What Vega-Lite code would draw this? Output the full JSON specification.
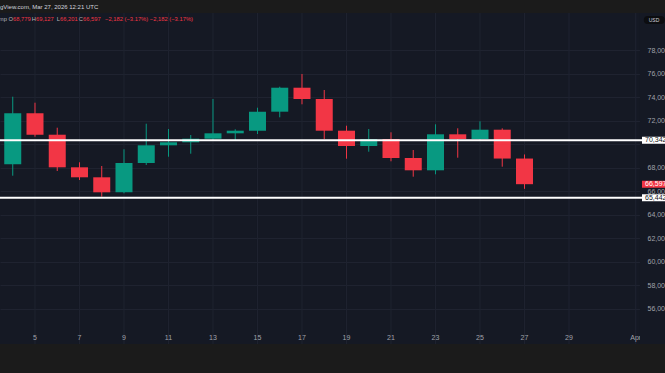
{
  "$schema": "https://vega.github.io/schema/vega-lite/v6.json",
  "width": 665,
  "height": 331,
  "autosize": {"type": "none"},
  "padding": {"top": 13, "left": 0, "right": 0, "bottom": 29},
  "background": "#1b1b1b",
  "config": {"view": {"fill": "#151924", "stroke": null}, "font": "Liberation Sans"},
  "datasets": {
    "candles": [
      {"date": "2026-03-04", "open": 68289, "high": 74043, "low": 67319, "close": 72630},
      {"date": "2026-03-05", "open": 72630, "high": 73532, "low": 70638, "close": 70808},
      {"date": "2026-03-06", "open": 70808, "high": 71404, "low": 67719, "close": 68034},
      {"date": "2026-03-07", "open": 68034, "high": 68460, "low": 66953, "close": 67183},
      {"date": "2026-03-08", "open": 67183, "high": 68145, "low": 65532, "close": 65906},
      {"date": "2026-03-09", "open": 65906, "high": 69566, "low": 65821, "close": 68400},
      {"date": "2026-03-10", "open": 68400, "high": 71744, "low": 68230, "close": 69906},
      {"date": "2026-03-11", "open": 69906, "high": 71293, "low": 68936, "close": 70162},
      {"date": "2026-03-12", "open": 70162, "high": 70783, "low": 69191, "close": 70468},
      {"date": "2026-03-13", "open": 70468, "high": 73846, "low": 70272, "close": 70927},
      {"date": "2026-03-14", "open": 70927, "high": 71268, "low": 70298, "close": 71149},
      {"date": "2026-03-15", "open": 71149, "high": 73106, "low": 70868, "close": 72766},
      {"date": "2026-03-16", "open": 72766, "high": 74893, "low": 72289, "close": 74808},
      {"date": "2026-03-17", "open": 74808, "high": 75974, "low": 73396, "close": 73846},
      {"date": "2026-03-18", "open": 73846, "high": 74612, "low": 70442, "close": 71149},
      {"date": "2026-03-19", "open": 71149, "high": 71574, "low": 68766, "close": 69847},
      {"date": "2026-03-20", "open": 69847, "high": 71293, "low": 69362, "close": 70442},
      {"date": "2026-03-21", "open": 70442, "high": 71012, "low": 68545, "close": 68825},
      {"date": "2026-03-22", "open": 68825, "high": 69506, "low": 67234, "close": 67779},
      {"date": "2026-03-23", "open": 67779, "high": 71693, "low": 67438, "close": 70842},
      {"date": "2026-03-24", "open": 70842, "high": 71353, "low": 68851, "close": 70442},
      {"date": "2026-03-25", "open": 70442, "high": 71949, "low": 70300, "close": 71234},
      {"date": "2026-03-26", "open": 71234, "high": 71350, "low": 68085, "close": 68779},
      {"date": "2026-03-27", "open": 68779, "high": 69127, "low": 66201, "close": 66597}
    ],
    "ticks": [
      {"date": "2026-03-05", "label": "5"},
      {"date": "2026-03-07", "label": "7"},
      {"date": "2026-03-09", "label": "9"},
      {"date": "2026-03-11", "label": "11"},
      {"date": "2026-03-13", "label": "13"},
      {"date": "2026-03-15", "label": "15"},
      {"date": "2026-03-17", "label": "17"},
      {"date": "2026-03-19", "label": "19"},
      {"date": "2026-03-21", "label": "21"},
      {"date": "2026-03-23", "label": "23"},
      {"date": "2026-03-25", "label": "25"},
      {"date": "2026-03-27", "label": "27"},
      {"date": "2026-03-29", "label": "29"},
      {"date": "2026-04-01", "label": "Apr"}
    ],
    "levels": [
      {"price": 70342, "label": "70,342", "type": "level"},
      {"price": 65442, "label": "65,442", "type": "level"},
      {"price": 66597, "label": "66,597", "type": "last"}
    ],
    "header": [
      {"caption": "gView.com, Mar 27, 2026 12:21 UTC", "symbol": "mp O", "open": "68,779", "h": "H", "high": "69,127", "l": "L", "low": "66,201", "c": "C", "close": "66,597", "change": "\u22122,182 (\u22123.17%) \u22122,182 (\u22123.17%)"}
    ],
    "badge": [{"text": "USD"}]
  },
  "resolve": {"axis": {"y": "independent"}},
  "layer": [
    {
      "data": {"name": "ticks"},
      "mark": {"type": "rule", "strokeWidth": 1, "color": "#1f2330"},
      "encoding": {
        "x": {"field": "date", "type": "temporal", "title": null, "axis": null,
          "scale": {"type": "utc", "padding": 0, "domain": [1772532900000, 1775115180000]}}
      }
    },
    {
      "data": {"name": "ticks"},
      "mark": {"type": "text", "align": "center", "baseline": "middle", "fontSize": 7, "color": "#a0a3ab"},
      "encoding": {
        "x": {"field": "date", "type": "temporal", "title": null, "axis": null},
        "y": {"datum": 53532, "type": "quantitative", "axis": null},
        "text": {"field": "label"}
      }
    },
    {
      "data": {"name": "candles"},
      "mark": {"type": "rule", "strokeWidth": 1},
      "encoding": {
        "x": {"field": "date", "type": "temporal", "title": null, "axis": null},
        "y": {"field": "low", "type": "quantitative", "title": null,
          "scale": {"domain": [52996, 81166], "nice": false, "zero": false},
          "axis": {"orient": "left", "grid": true, "gridColor": "#1f2330", "gridWidth": 1, "labels": false, "ticks": false, "domain": false, "title": null,
            "values": [56000, 58000, 60000, 62000, 64000, 66000, 68000, 70000, 72000, 74000, 76000, 78000]}},
        "y2": {"field": "high"},
        "color": {"condition": {"test": "datum.close >= datum.open", "value": "#089981"}, "value": "#f23645"}
      }
    },
    {
      "data": {"name": "candles"},
      "mark": {"type": "bar", "size": 17},
      "encoding": {
        "x": {"field": "date", "type": "temporal", "title": null, "axis": null},
        "y": {"field": "open", "type": "quantitative", "title": null,
          "axis": {"orient": "right", "offset": -19, "zindex": 1, "grid": false, "domain": false, "ticks": false, "tickSize": 0, "labelPadding": 1, "labelFontSize": 7, "labelColor": "#a0a3ab", "labelFont": "Liberation Sans", "labelAlign": "left", "labelOverlap": false, "labelFlush": false, "title": null,
            "labelExpr": "format(datum.value, ',')",
            "values": [56000, 58000, 60000, 62000, 64000, 66000, 68000, 72000, 74000, 76000, 78000]}},
        "y2": {"field": "close"},
        "color": {"condition": {"test": "datum.close >= datum.open", "value": "#089981"}, "value": "#f23645"}
      }
    },
    {
      "data": {"name": "badge"},
      "mark": {"type": "rule", "strokeWidth": 25, "color": "#151924"},
      "encoding": {
        "x": {"datum": 1775066640000, "type": "temporal", "axis": null}
      }
    },
    {
      "data": {"name": "levels"},
      "transform": [{"filter": "datum.type == 'level'"}],
      "mark": {"type": "rule", "strokeWidth": 2, "color": "#ffffff"},
      "encoding": {
        "y": {"field": "price", "type": "quantitative", "axis": null}
      }
    },
    {
      "data": {"name": "levels"},
      "mark": {"type": "rule", "strokeWidth": 7, "strokeCap": "butt"},
      "encoding": {
        "x": {"datum": 1775025840000, "type": "temporal", "axis": null},
        "x2": {"datum": 1775174400000},
        "y": {"field": "price", "type": "quantitative", "axis": null},
        "color": {"condition": {"test": "datum.type == 'last'", "value": "#f23645"}, "value": "#ffffff"}
      }
    },
    {
      "data": {"name": "levels"},
      "mark": {"type": "text", "align": "left", "baseline": "middle", "fontSize": 7, "font": "Liberation Sans"},
      "encoding": {
        "x": {"datum": 1775037600000, "type": "temporal", "axis": null},
        "y": {"field": "price", "type": "quantitative", "axis": null},
        "text": {"field": "label"},
        "color": {"condition": {"test": "datum.type == 'last'", "value": "#ffffff"}, "value": "#131722"}
      }
    },
    {
      "data": {"name": "header"},
      "mark": {"type": "text", "align": "left", "baseline": "middle", "fontSize": 6, "color": "#d1d4dc"},
      "encoding": {
        "x": {"datum": 1772532900000, "type": "temporal", "axis": null},
        "y": {"datum": 81677, "type": "quantitative", "axis": null},
        "text": {"field": "caption"}
      }
    },
    {
      "data": {"name": "header"},
      "mark": {"type": "text", "align": "right", "baseline": "middle", "fontSize": 5.8, "color": "#b2b5be"},
      "encoding": {
        "x": {"datum": 1772583360000, "type": "temporal", "axis": null},
        "y": {"datum": 80630, "type": "quantitative", "axis": null},
        "text": {"field": "symbol"}
      }
    },
    {
      "data": {"name": "header"},
      "mark": {"type": "text", "align": "left", "baseline": "middle", "fontSize": 5.8, "color": "#f23645"},
      "encoding": {
        "x": {"datum": 1772583360000, "type": "temporal", "axis": null},
        "y": {"datum": 80630, "type": "quantitative", "axis": null},
        "text": {"field": "open"}
      }
    },
    {
      "data": {"name": "header"},
      "mark": {"type": "text", "align": "right", "baseline": "middle", "fontSize": 5.8, "color": "#b2b5be"},
      "encoding": {
        "x": {"datum": 1772672700000, "type": "temporal", "axis": null},
        "y": {"datum": 80630, "type": "quantitative", "axis": null},
        "text": {"field": "h"}
      }
    },
    {
      "data": {"name": "header"},
      "mark": {"type": "text", "align": "left", "baseline": "middle", "fontSize": 5.8, "color": "#f23645"},
      "encoding": {
        "x": {"datum": 1772672700000, "type": "temporal", "axis": null},
        "y": {"datum": 80630, "type": "quantitative", "axis": null},
        "text": {"field": "high"}
      }
    },
    {
      "data": {"name": "header"},
      "mark": {"type": "text", "align": "right", "baseline": "middle", "fontSize": 5.8, "color": "#b2b5be"},
      "encoding": {
        "x": {"datum": 1772765880000, "type": "temporal", "axis": null},
        "y": {"datum": 80630, "type": "quantitative", "axis": null},
        "text": {"field": "l"}
      }
    },
    {
      "data": {"name": "header"},
      "mark": {"type": "text", "align": "left", "baseline": "middle", "fontSize": 5.8, "color": "#f23645"},
      "encoding": {
        "x": {"datum": 1772765880000, "type": "temporal", "axis": null},
        "y": {"datum": 80630, "type": "quantitative", "axis": null},
        "text": {"field": "low"}
      }
    },
    {
      "data": {"name": "header"},
      "mark": {"type": "text", "align": "right", "baseline": "middle", "fontSize": 5.8, "color": "#b2b5be"},
      "encoding": {
        "x": {"datum": 1772855220000, "type": "temporal", "axis": null},
        "y": {"datum": 80630, "type": "quantitative", "axis": null},
        "text": {"field": "c"}
      }
    },
    {
      "data": {"name": "header"},
      "mark": {"type": "text", "align": "left", "baseline": "middle", "fontSize": 5.8, "color": "#f23645"},
      "encoding": {
        "x": {"datum": 1772855220000, "type": "temporal", "axis": null},
        "y": {"datum": 80630, "type": "quantitative", "axis": null},
        "text": {"field": "close"}
      }
    },
    {
      "data": {"name": "header"},
      "mark": {"type": "text", "align": "left", "baseline": "middle", "fontSize": 5.8, "color": "#f23645"},
      "encoding": {
        "x": {"datum": 1772940660000, "type": "temporal", "axis": null},
        "y": {"datum": 80630, "type": "quantitative", "axis": null},
        "text": {"field": "change"}
      }
    },
    {
      "data": {"name": "badge"},
      "mark": {"type": "rule", "strokeWidth": 8, "strokeCap": "round", "color": "#0c0d10"},
      "encoding": {
        "x": {"datum": 1775048400000, "type": "temporal", "axis": null},
        "x2": {"datum": 1775098800000},
        "y": {"datum": 80570, "type": "quantitative", "axis": null}
      }
    },
    {
      "data": {"name": "badge"},
      "mark": {"type": "text", "align": "center", "baseline": "middle", "fontSize": 5, "font": "Liberation Sans", "color": "#d1d4dc"},
      "encoding": {
        "x": {"datum": 1775072460000, "type": "temporal", "axis": null},
        "y": {"datum": 80570, "type": "quantitative", "axis": null},
        "text": {"field": "text"}
      }
    }
  ]
}
